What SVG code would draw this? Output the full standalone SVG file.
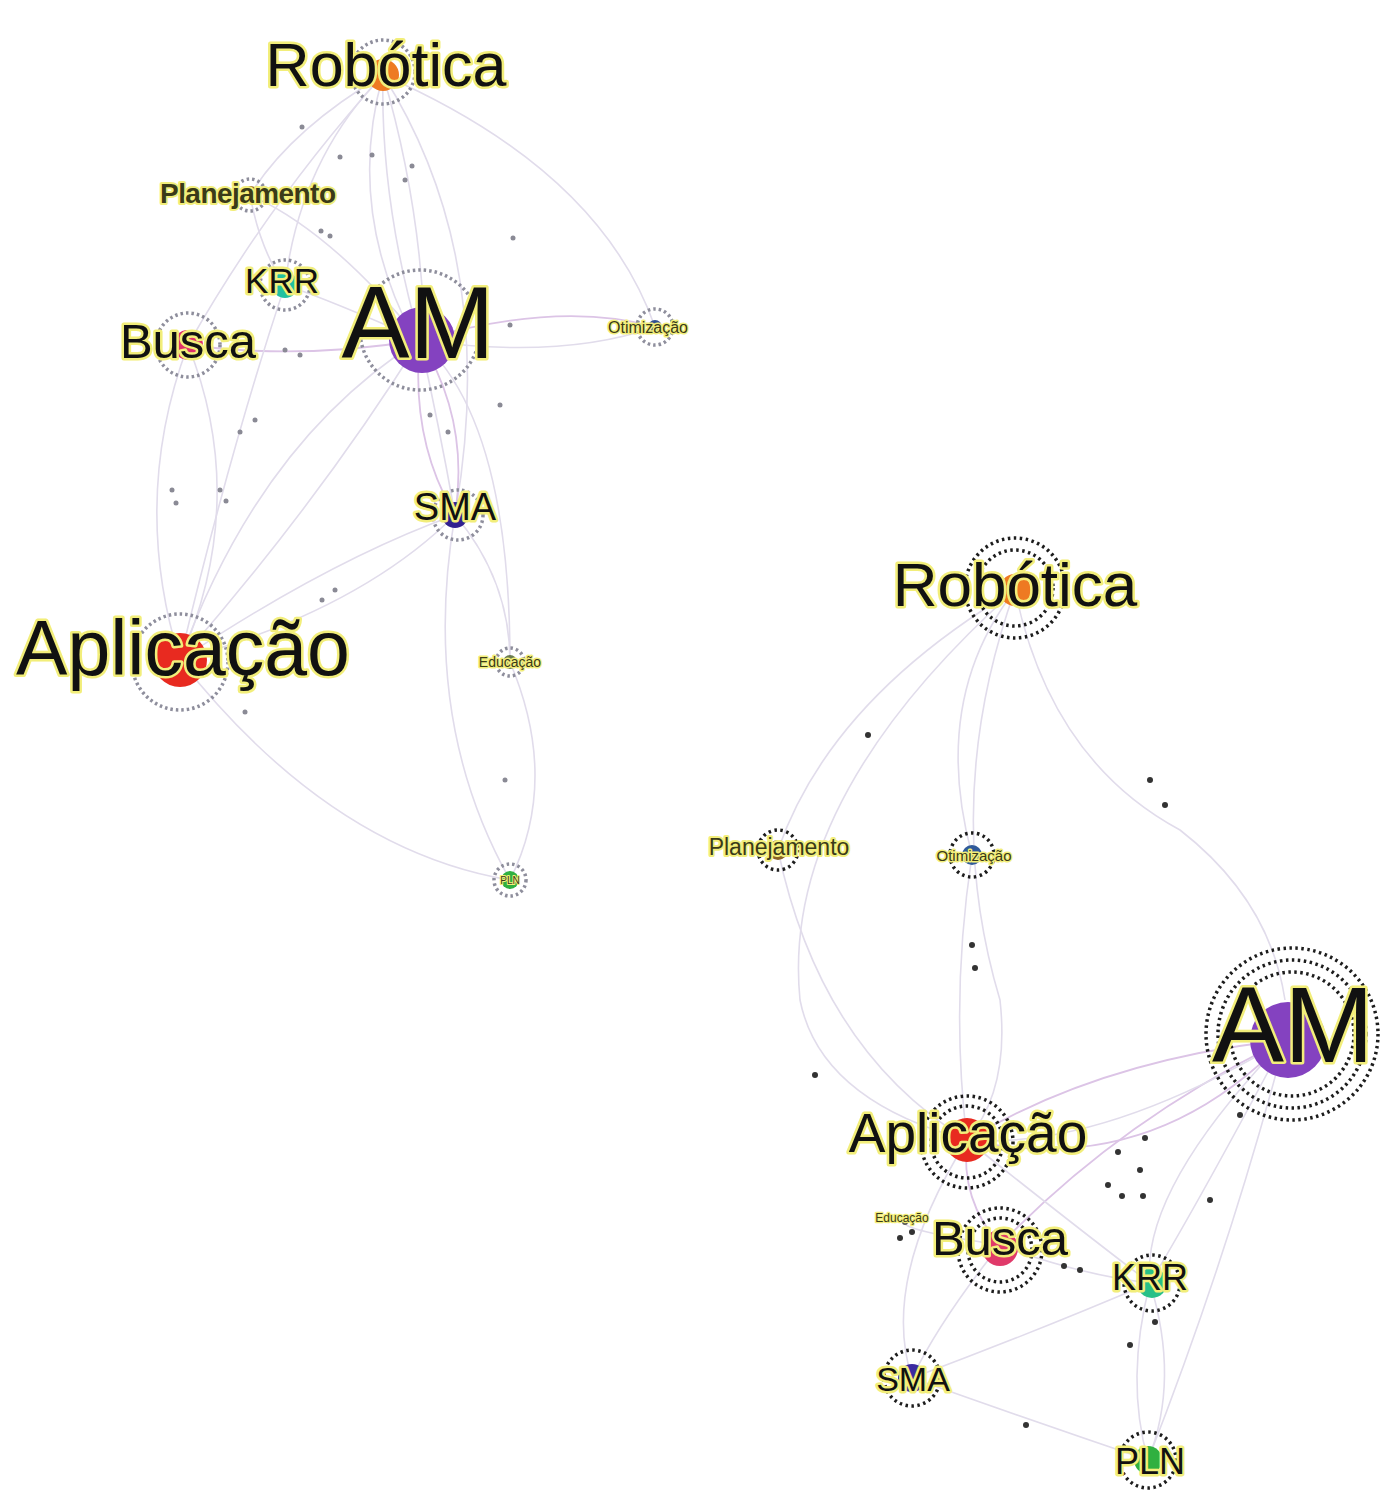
<svg xmlns="http://www.w3.org/2000/svg" width="1380" height="1501" viewBox="0 0 1380 1501">
<style>
.e{fill:none;stroke:#e1dceb;stroke-width:1.6}
.ep{fill:none;stroke:#dcc4e6;stroke-width:1.8}
.lbl{font-family:"Liberation Sans",Arial,sans-serif;fill:#111;stroke:#f2ee7a;stroke-width:5;paint-order:stroke;stroke-linejoin:round;text-anchor:middle}
.sm{fill:#3a3a18}
.ringL{fill:none;stroke:#8e8e9c;stroke-dasharray:2.5 3;stroke-width:3.5}
.ringR{fill:none;stroke:#1d1d1d;stroke-dasharray:2.5 3.5;stroke-width:3.5}
.dL{fill:#8a8a95}
.dR{fill:#333}
</style>
<rect width="1380" height="1501" fill="#ffffff"/>
<g id="connectors">
<path class="e" d="M383 75 Q380 200 420 340"/>
<path class="e" d="M383 75 Q420 200 425 335"/>
<path class="e" d="M383 75 Q345 210 415 340"/>
<path class="e" d="M383 75 Q290 130 250 195"/>
<path class="e" d="M383 75 Q300 160 285 285"/>
<path class="e" d="M383 75 Q270 200 188 345"/>
<path class="e" d="M383 75 Q600 170 655 327"/>
<path class="e" d="M383 75 Q500 260 455 515"/>
<path class="e" d="M250 195 Q330 230 420 340"/>
<path class="e" d="M250 195 Q260 250 285 285"/>
<path class="ep" d="M420 340 Q560 300 655 327"/>
<path class="e" d="M420 340 Q560 360 655 327"/>
<path class="ep" d="M420 340 Q410 440 455 515"/>
<path class="ep" d="M420 340 Q470 420 455 515"/>
<path class="e" d="M420 340 Q440 430 455 515"/>
<path class="ep" d="M420 340 Q300 360 188 345"/>
<path class="e" d="M420 340 Q330 300 285 285"/>
<path class="e" d="M420 340 Q260 440 180 660"/>
<path class="e" d="M420 340 Q320 500 180 660"/>
<path class="e" d="M420 340 Q510 420 510 662"/>
<path class="e" d="M285 285 Q230 450 180 660"/>
<path class="e" d="M188 345 Q130 500 180 660"/>
<path class="e" d="M188 345 Q250 500 180 660"/>
<path class="e" d="M455 515 Q330 560 180 660"/>
<path class="e" d="M455 515 Q360 610 180 660"/>
<path class="e" d="M455 515 Q420 720 510 880"/>
<path class="e" d="M455 515 Q510 580 510 662"/>
<path class="e" d="M180 660 Q330 850 510 880"/>
<path class="e" d="M510 662 Q560 780 510 880"/>
<path class="e" d="M1015 590 Q830 700 778 850"/>
<path class="e" d="M1015 590 Q780 800 800 1000 Q820 1100 967 1140"/>
<path class="e" d="M1015 590 Q930 700 972 855"/>
<path class="e" d="M1015 590 Q1050 760 1180 830 Q1270 900 1285 1000"/>
<path class="e" d="M1015 590 Q940 800 1000 1000 Q1010 1090 967 1140"/>
<path class="e" d="M972 855 Q950 1000 967 1140"/>
<path class="e" d="M778 850 Q820 1050 967 1140"/>
<path class="ep" d="M1285 1040 Q1100 1060 967 1140"/>
<path class="ep" d="M1285 1040 Q1150 1180 967 1140"/>
<path class="ep" d="M1285 1040 Q1120 1120 1000 1245"/>
<path class="e" d="M1285 1040 Q1140 1190 1150 1283"/>
<path class="e" d="M1285 1040 Q1200 1200 1150 1283"/>
<path class="e" d="M1285 1040 Q1230 1250 1148 1460"/>
<path class="e" d="M1285 1040 Q1100 1150 967 1140"/>
<path class="ep" d="M967 1140 Q960 1200 1000 1245"/>
<path class="e" d="M967 1140 Q1080 1230 1150 1283"/>
<path class="e" d="M967 1140 Q880 1280 912 1378"/>
<path class="e" d="M1000 1245 Q1080 1275 1150 1283"/>
<path class="e" d="M1000 1245 Q940 1320 912 1378"/>
<path class="e" d="M912 1378 Q1030 1420 1148 1460"/>
<path class="e" d="M912 1378 Q1040 1330 1150 1283"/>
<path class="e" d="M1150 1283 Q1125 1380 1148 1460"/>
<path class="e" d="M1150 1283 Q1180 1380 1148 1460"/>
<path class="e" d="M1000 1245 Q900 1230 905 1222"/>
</g>
<g id="minor-nodes">
<circle class="dL" cx="302" cy="127" r="2.5"/><circle class="dL" cx="340" cy="157" r="2.5"/>
<circle class="dL" cx="372" cy="155" r="2.5"/><circle class="dL" cx="405" cy="180" r="2.5"/>
<circle class="dL" cx="412" cy="166" r="2.5"/><circle class="dL" cx="513" cy="238" r="2.5"/>
<circle class="dL" cx="330" cy="236" r="2.5"/><circle class="dL" cx="321" cy="231" r="2.5"/>
<circle class="dL" cx="300" cy="355" r="2.5"/><circle class="dL" cx="285" cy="350" r="2.5"/>
<circle class="dL" cx="255" cy="420" r="2.5"/><circle class="dL" cx="240" cy="432" r="2.5"/>
<circle class="dL" cx="172" cy="490" r="2.5"/><circle class="dL" cx="176" cy="503" r="2.5"/>
<circle class="dL" cx="220" cy="490" r="2.5"/><circle class="dL" cx="226" cy="501" r="2.5"/>
<circle class="dL" cx="322" cy="600" r="2.5"/><circle class="dL" cx="335" cy="590" r="2.5"/>
<circle class="dL" cx="500" cy="405" r="2.5"/><circle class="dL" cx="505" cy="780" r="2.5"/>
<circle class="dL" cx="245" cy="712" r="2.5"/><circle class="dL" cx="448" cy="432" r="2.5"/>
<circle class="dL" cx="430" cy="415" r="2.5"/><circle class="dL" cx="510" cy="325" r="2.5"/>
<circle class="dR" cx="868" cy="735" r="3"/><circle class="dR" cx="1150" cy="780" r="3"/>
<circle class="dR" cx="1165" cy="805" r="3"/><circle class="dR" cx="972" cy="945" r="3"/>
<circle class="dR" cx="975" cy="968" r="3"/><circle class="dR" cx="815" cy="1075" r="3"/>
<circle class="dR" cx="1118" cy="1152" r="3"/><circle class="dR" cx="1145" cy="1138" r="3"/>
<circle class="dR" cx="1108" cy="1185" r="3"/><circle class="dR" cx="1140" cy="1170" r="3"/>
<circle class="dR" cx="1122" cy="1196" r="3"/><circle class="dR" cx="1143" cy="1196" r="3"/>
<circle class="dR" cx="1210" cy="1200" r="3"/><circle class="dR" cx="1080" cy="1270" r="3"/>
<circle class="dR" cx="1064" cy="1266" r="3"/><circle class="dR" cx="900" cy="1238" r="3"/>
<circle class="dR" cx="912" cy="1232" r="3"/><circle class="dR" cx="1240" cy="1115" r="3"/>
<circle class="dR" cx="1026" cy="1425" r="3"/><circle class="dR" cx="1130" cy="1345" r="3"/>
<circle class="dR" cx="1155" cy="1322" r="3"/>
</g>
<g id="L-robotica"><circle class="ringL" cx="383" cy="72" r="32"/><circle cx="383" cy="75" r="16" fill="#ee7a22"/><text class="lbl" x="386" y="86" font-size="61">Robótica</text></g>
<g id="L-planejamento"><circle class="ringL" cx="250" cy="195" r="16"/><circle cx="250" cy="195" r="9" fill="#8a6424"/><text class="lbl sm" x="248" y="203" font-size="28" font-weight="bold" style="stroke-width:4" textLength="176">Planejamento</text></g>
<g id="L-krr"><circle class="ringL" cx="285" cy="285" r="25"/><circle cx="285" cy="285" r="13" fill="#22c0a0"/><text class="lbl" x="282" y="293" font-size="35">KRR</text></g>
<g id="L-busca"><circle class="ringL" cx="188" cy="345" r="32"/><circle cx="188" cy="345" r="15" fill="#e0306a"/><text class="lbl" x="188" y="358" font-size="49">Busca</text></g>
<g id="L-am"><circle class="ringL" cx="420" cy="330" r="60"/><circle cx="422" cy="340" r="33" fill="#8442c0"/><text class="lbl" x="418" y="358" font-size="102">AM</text></g>
<g id="L-otimizacao"><circle class="ringL" cx="655" cy="327" r="18"/><circle cx="655" cy="327" r="7" fill="#305090"/><text class="lbl sm" x="648" y="333" font-size="16" style="stroke-width:3">Otimização</text></g>
<g id="L-sma"><circle class="ringL" cx="458" cy="515" r="25"/><circle cx="455" cy="515" r="13" fill="#302090"/><text class="lbl" x="455" y="520" font-size="38">SMA</text></g>
<g id="L-aplicacao"><circle class="ringL" cx="180" cy="662" r="48"/><circle cx="180" cy="660" r="27" fill="#e82a20"/><text class="lbl" x="183" y="675" font-size="77">Aplicação</text></g>
<g id="L-educacao"><circle class="ringL" cx="510" cy="662" r="14"/><circle cx="510" cy="662" r="7" fill="#6a7a50"/><text class="lbl sm" x="510" y="667" font-size="14" style="stroke-width:3">Educação</text></g>
<g id="L-pln"><circle class="ringL" cx="510" cy="880" r="16"/><circle cx="510" cy="880" r="9" fill="#30b040"/><text class="lbl sm" x="510" y="884" font-size="10" style="stroke-width:2">PLN</text></g>
<g id="R-robotica"><circle class="ringR" cx="1015" cy="588" r="38"/><circle class="ringR" cx="1015" cy="588" r="50"/><circle cx="1015" cy="590" r="16" fill="#ee7a22"/><text class="lbl" x="1015" y="606" font-size="62">Robótica</text></g>
<g id="R-planejamento"><circle class="ringR" cx="778" cy="850" r="20"/><circle cx="778" cy="850" r="10" fill="#8a6424"/><text class="lbl sm" x="779" y="855" font-size="23" style="stroke-width:4">Planejamento</text></g>
<g id="R-otimizacao"><circle class="ringR" cx="972" cy="855" r="22"/><circle cx="972" cy="855" r="10" fill="#305a9a"/><text class="lbl sm" x="974" y="861" font-size="15" style="stroke-width:3">Otimização</text></g>
<g id="R-am"><circle class="ringR" cx="1292" cy="1034" r="62"/><circle class="ringR" cx="1292" cy="1034" r="74"/><circle class="ringR" cx="1292" cy="1034" r="86"/><circle cx="1288" cy="1040" r="38" fill="#8442c0"/><text class="lbl" x="1293" y="1062" font-size="108">AM</text></g>
<g id="R-aplicacao"><circle class="ringR" cx="967" cy="1142" r="36"/><circle class="ringR" cx="967" cy="1142" r="46"/><circle cx="967" cy="1140" r="22" fill="#e82a20"/><text class="lbl" x="968" y="1152" font-size="55">Aplicação</text></g>
<g id="R-educacao"><circle cx="905" cy="1222" r="3" fill="#555"/><text class="lbl sm" x="902" y="1222" font-size="12" style="stroke-width:2.5">Educação</text></g>
<g id="R-busca"><circle class="ringR" cx="1000" cy="1250" r="32"/><circle class="ringR" cx="1000" cy="1250" r="42"/><circle cx="1000" cy="1248" r="18" fill="#e03a6a"/><text class="lbl" x="1000" y="1255" font-size="49">Busca</text></g>
<g id="R-krr"><circle class="ringR" cx="1152" cy="1283" r="28"/><circle cx="1152" cy="1283" r="15" fill="#28c088"/><text class="lbl" x="1150" y="1290" font-size="36">KRR</text></g>
<g id="R-sma"><circle class="ringR" cx="912" cy="1378" r="28"/><circle cx="912" cy="1378" r="14" fill="#3a2aa0"/><text class="lbl" x="913" y="1391" font-size="34">SMA</text></g>
<g id="R-pln"><circle class="ringR" cx="1148" cy="1460" r="28"/><circle cx="1148" cy="1460" r="14" fill="#30b040"/><text class="lbl" x="1150" y="1474" font-size="36">PLN</text></g>
</svg>
